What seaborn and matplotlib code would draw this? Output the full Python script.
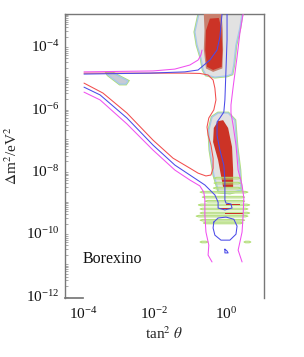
import numpy as np
import matplotlib
matplotlib.use("Agg")
import matplotlib.pyplot as plt
import matplotlib.ticker as mticker
import seaborn as sns

# Contours, stored as log10(tan^2 theta), log10(dm^2 / eV^2)
red_lx = [-3.97, -2.13, -1.15, -0.73, -0.50, -0.36, -0.31, -0.28, -0.34, -0.48, -0.53, -0.50,
          -0.42, -0.36, -0.36, -0.42, -0.56, -0.78, -1.01, -1.48, -2.04, -2.77, -3.44, -3.97]
red_ly = [-4.87, -4.87, -4.87, -4.88, -4.93, -5.09, -5.35, -5.73, -6.05, -6.31, -6.60, -6.86,
          -7.18, -7.60, -7.92, -8.14, -8.17, -8.08, -7.92, -7.60, -7.02, -6.15, -5.51, -5.19]

blue_a_lx = [-3.97, -2.13, -1.15, -0.78, -0.45, -0.25, -0.17, -0.11]
blue_a_ly = [-4.90, -4.87, -4.83, -4.77, -4.45, -4.13, -3.71, -2.97]

blue_b_lx = [0.03, 0.03, 0.0, -0.03, -0.06, -0.17, -0.25, -0.25, -0.17, -0.06, -0.03, -0.03, 0.0,
             0.14, 0.17, -0.03, -0.22, -0.22, -0.31, -0.59, -1.01, -1.43, -2.04, -2.77, -3.52, -3.97]
blue_b_ly = [-2.97, -3.81, -4.77, -5.73, -6.12, -6.31, -6.44, -6.86, -7.34, -7.82, -8.30, -8.94, -9.04,
             -9.07, -9.20, -9.26, -9.20, -9.01, -8.78, -8.46, -8.14, -7.82, -7.18, -6.31, -5.57, -5.32]

blue_ring_lx = [-0.34, -0.22, 0.0, 0.22, 0.31, 0.28, 0.11, -0.14, -0.31, -0.36, -0.34]
blue_ring_ly = [-9.65, -9.52, -9.49, -9.56, -9.78, -10.04, -10.23, -10.23, -10.07, -9.84, -9.65]

blue_dot_lx = [-0.03, -0.03, 0.06, 0.03, -0.03]
blue_dot_ly = [-10.52, -10.64, -10.64, -10.58, -10.52]

mag_up_lx = [-3.97, -2.04, -1.43, -1.01, -0.78, -0.70, -0.67]
mag_up_ly = [-4.83, -4.80, -4.74, -4.61, -4.45, -4.29, -4.13]

mag_right_lx = [0.48, 0.39, 0.31, 0.20, 0.14, 0.14, 0.20, 0.28, 0.34, 0.45, 0.50, 0.48, 0.45, 0.39, 0.34, 0.45]
mag_right_ly = [-2.97, -3.58, -4.35, -5.32, -5.89, -6.15, -6.54, -7.18, -7.98, -8.46, -8.88, -9.43,
                -9.97, -10.29, -10.55, -10.93]

mag_low_lx = [-3.97, -3.52, -2.77, -2.04, -1.43, -1.01, -0.73, -0.62, -0.59, -0.59, -0.56, -0.48, -0.50, -0.39]
mag_low_ly = [-5.48, -5.73, -6.50, -7.34, -7.98, -8.30, -8.49, -8.69, -8.94, -9.43, -9.97, -10.39, -10.71, -10.93]

# Allowed regions
up_out_lx = [-0.76, -0.87, -0.81, -0.70, -0.64, -0.56, -0.31, 0.03, 0.17, 0.22, 0.28, 0.39, 0.45]
up_out_ly = [-2.97, -3.55, -3.97, -4.39, -4.77, -4.93, -5.0, -4.96, -4.90, -4.61, -3.97, -3.42, -2.97]

up_mid_lx = [-0.62, -0.12, -0.09, -0.08, -0.10, -0.36, -0.56, -0.62, -0.60]
up_mid_ly = [-2.97, -2.97, -3.50, -4.10, -4.72, -4.83, -4.72, -4.10, -3.50]

up_core_lx = [-0.45, -0.20, -0.13, -0.10, -0.12, -0.36, -0.53, -0.58, -0.56]
up_core_ly = [-3.12, -3.10, -3.42, -4.13, -4.67, -4.77, -4.67, -4.13, -3.50]

sliver_lx = [-3.33, -3.16, -2.74, -2.80, -2.97, -3.30]
sliver_ly = [-4.87, -4.87, -5.12, -5.22, -5.22, -4.93]

low_out_lx = [-0.39, -0.22, 0.06, 0.25, 0.31, 0.39, 0.42, 0.11, -0.20, -0.34, -0.45, -0.48]
low_out_ly = [-6.28, -6.15, -6.15, -6.38, -7.24, -7.98, -8.62, -8.72, -8.69, -8.14, -7.34, -6.70]

low_core_lx = [-0.34, -0.22, -0.08, 0.06, 0.17, 0.20, 0.20, -0.08, -0.22, -0.36]
low_core_ly = [-6.63, -6.41, -6.38, -6.63, -7.24, -7.98, -8.53, -8.53, -7.66, -7.08]

# horizontal striations below the lower region: centre, left end, right end
stripe_y = [-8.24, -8.40, -8.56, -8.69, -8.85, -8.98, -9.10, -9.23, -9.36, -9.46, -9.59, -9.68, -10.29, -10.29]
stripe_l = [-0.34, -0.34, -0.36, -0.73, -0.67, -0.59, -0.78, -0.73, -0.73, -0.84, -0.73, -0.64, -0.73, 0.50]
stripe_r = [0.42, 0.42, 0.42, 0.62, 0.53, 0.53, 0.67, 0.62, 0.67, 0.62, 0.53, 0.48, -0.50, 0.70]
stripe_red_l = [None, None, None, None, None, None, 0.0, -0.17, -0.03, None, None, None, None, None]
stripe_red_r = [None, None, None, None, None, None, 0.39, 0.11, 0.48, None, None, None, None, None]

C_RED = "#f24d4d"
C_BLUE = "#4a4ae8"
C_MAG = "#f050f0"
C_GREEN = "#b0e070"
C_LBLUE = "#a8c8ec"
C_GRAY = "#e2e2e2"
C_CORE = "#cc3326"
C_BROWN = "#c8806e"

sns.set_theme(style="white")
plt.rcParams["font.family"] = ["Liberation Serif", "DejaVu Serif"]
plt.rcParams["mathtext.fontset"] = "stix"

fig = plt.figure(figsize=(3.04, 3.57), dpi=100)
ax = fig.add_axes([0.214, 0.165, 0.654, 0.796])
ax.set_xscale("log")
ax.set_yscale("log")


def p10(a):
    return 10.0 ** np.array(a, dtype=float)


def region(lx, ly, fill, ring=True):
    x, y = p10(lx), p10(ly)
    if ring:
        ax.fill(x, y, facecolor="none", edgecolor=C_GREEN, lw=2.0, zorder=1)
        ax.fill(x, y, facecolor=fill, edgecolor=C_LBLUE, lw=1.0, zorder=2)
    else:
        ax.fill(x, y, facecolor=fill, edgecolor="none", zorder=3)


region(up_out_lx, up_out_ly, C_GRAY)
region(up_mid_lx, up_mid_ly, C_BROWN, ring=False)
region(up_core_lx, up_core_ly, C_CORE, ring=False)
region(sliver_lx, sliver_ly, "#c8ccd4")
region(low_out_lx, low_out_ly, C_GRAY)
region(low_core_lx, low_core_ly, C_CORE, ring=False)

# striations
h = 0.026
for yc, xl, xr, rl, rr in zip(stripe_y, stripe_l, stripe_r, stripe_red_l, stripe_red_r):
    d = min(0.08, (xr - xl) / 4)
    sx = [xl, xl + d, xr - d, xr, xr - d, xl + d, xl]
    sy = [yc, yc + h, yc + h, yc, yc - h, yc - h, yc]
    inside_core = yc > -8.6
    ax.fill(p10(sx), p10(sy), facecolor="none" if inside_core else C_GRAY,
            edgecolor=C_GREEN, lw=0.7, zorder=4)
    if rl is not None:
        ax.fill(p10([rl, rr, rr, rl]), p10([yc - h * 0.6, yc - h * 0.6, yc + h * 0.6, yc + h * 0.6]),
                facecolor=C_CORE, edgecolor="none", zorder=4)

# exclusion contours
curves = [
    (red_lx, red_ly, C_RED),
    (blue_a_lx, blue_a_ly, C_BLUE),
    (blue_b_lx, blue_b_ly, C_BLUE),
    (blue_ring_lx, blue_ring_ly, C_BLUE),
    (blue_dot_lx, blue_dot_ly, C_BLUE),
    (mag_up_lx, mag_up_ly, C_MAG),
    (mag_right_lx, mag_right_ly, C_MAG),
    (mag_low_lx, mag_low_ly, C_MAG),
]
for lx, ly, col in curves:
    sns.lineplot(x=p10(lx), y=p10(ly), sort=False, estimator=None, color=col, lw=0.75, ax=ax, zorder=5)

ax.set_xlim(10 ** -4.5, 10 ** 1.06)
ax.set_ylim(10 ** -12.09, 10 ** -2.97)

ax.set_xticks([1e-4, 1e-2, 1e0])
ax.xaxis.set_minor_locator(mticker.NullLocator())
ax.set_yticks([1e-12, 1e-10, 1e-8, 1e-6, 1e-4])
ax.yaxis.set_minor_locator(mticker.LogLocator(base=10, subs=np.arange(1, 10), numticks=40))
ax.yaxis.set_minor_formatter(mticker.NullFormatter())
ax.xaxis.set_major_formatter(mticker.LogFormatterMathtext())
ax.yaxis.set_major_formatter(mticker.LogFormatterMathtext())

ax.tick_params(axis="x", length=0, labelsize=11, pad=6, colors="#111111")
ax.tick_params(axis="y", which="major", direction="in", length=4, width=0.7, color="#777777",
               labelsize=11, pad=4, labelcolor="#111111")
ax.tick_params(axis="y", which="minor", direction="in", length=2, width=0.5, color="#888888", left=True)

for side in ["top", "left", "right"]:
    ax.spines[side].set_color("#777777")
    ax.spines[side].set_linewidth(1.0)
ax.spines["bottom"].set_color("#777777")
ax.spines["bottom"].set_bounds(10 ** -4.5, 10 ** -4.0)

ax.set_xlabel(r"tan$^2$ $\theta$", fontsize=11, labelpad=2)
ax.set_ylabel(r"$\Delta$m$^2$/eV$^2$", fontsize=11, labelpad=4)

ax.text(1e-4, 10 ** -10.84, "Borexino", fontsize=11.5, va="center", ha="left", color="#111111")

fig.savefig("out.png", dpi=100)
